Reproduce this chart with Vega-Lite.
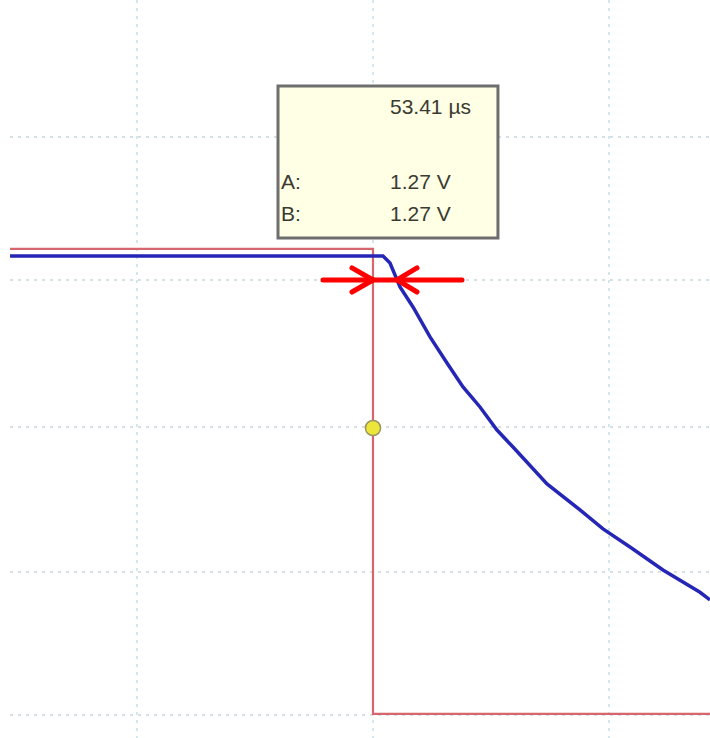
{
  "$schema": "https://vega.github.io/schema/vega-lite/v6.json",
  "width": 710,
  "height": 738,
  "padding": 0,
  "autosize": {"type": "none"},
  "background": "#ffffff",
  "config": {"view": {"stroke": null}},
  "encoding": {
    "x": {"field": "t", "type": "quantitative", "scale": {"domain": [-31.61, 28.56], "nice": false, "zero": false}, "axis": null},
    "y": {"field": "v", "type": "quantitative", "scale": {"domain": [-2.145, 2.945], "nice": false, "zero": false}, "axis": null}
  },
  "layer": [
    {
      "data": {"values": [
        {"t": -30.76, "t2": 28.56, "v": 2.0, "v2": 2.0},
        {"t": -30.76, "t2": 28.56, "v": 1.014, "v2": 1.014},
        {"t": -30.76, "t2": 28.56, "v": 0.0, "v2": 0.0},
        {"t": -30.76, "t2": 28.56, "v": -1.0, "v2": -1.0},
        {"t": -30.76, "t2": 28.56, "v": -1.986, "v2": -1.986}
      ]},
      "mark": {"type": "rule", "color": "#d6dfe4", "strokeWidth": 2, "strokeDash": [3, 5]},
      "encoding": {"x2": {"field": "t2"}, "y2": {"field": "v2"}}
    },
    {
      "data": {"values": [
        {"t": -20, "t2": -20, "v": 2.945, "v2": -2.145},
        {"t": 0, "t2": 0, "v": 2.945, "v2": -2.145},
        {"t": 20, "t2": 20, "v": 2.945, "v2": -2.145}
      ]},
      "mark": {"type": "rule", "color": "#d3e8ec", "strokeWidth": 2, "strokeDash": [3, 5]},
      "encoding": {"x2": {"field": "t2"}, "y2": {"field": "v2"}}
    },
    {
      "data": {"values": [
        {"i": 0, "t": -30.76, "v": 1.228},
        {"i": 1, "t": 0, "v": 1.228},
        {"i": 2, "t": 0, "v": -1.979},
        {"i": 3, "t": 28.56, "v": -1.979}
      ]},
      "mark": {"type": "line", "color": "#d8646e", "strokeWidth": 2.2},
      "encoding": {"order": {"field": "i", "type": "quantitative"}}
    },
    {
      "data": {"values": [
        {"i": 0, "t": -30.76, "v": 1.179},
        {"i": 1, "t": 0.847, "v": 1.179},
        {"i": 2, "t": 1.441, "v": 1.131},
        {"i": 3, "t": 2.288, "v": 0.966},
        {"i": 4, "t": 3.390, "v": 0.828},
        {"i": 5, "t": 4.831, "v": 0.621},
        {"i": 6, "t": 6.271, "v": 0.441},
        {"i": 7, "t": 7.627, "v": 0.276},
        {"i": 8, "t": 9.068, "v": 0.138},
        {"i": 9, "t": 10.508, "v": -0.021},
        {"i": 10, "t": 11.864, "v": -0.138},
        {"i": 11, "t": 14.746, "v": -0.393},
        {"i": 12, "t": 17.542, "v": -0.572},
        {"i": 13, "t": 19.492, "v": -0.703},
        {"i": 14, "t": 21.780, "v": -0.828},
        {"i": 15, "t": 24.576, "v": -0.986},
        {"i": 16, "t": 27.712, "v": -1.140},
        {"i": 17, "t": 28.559, "v": -1.193}
      ]},
      "mark": {"type": "line", "color": "#2626b6", "strokeWidth": 3.5},
      "encoding": {"order": {"field": "i", "type": "quantitative"}}
    },
    {
      "data": {"values": [
        {"t": -4.237, "v": 1.014, "t2": 7.542, "v2": 1.014},
        {"t": -1.780, "v": 1.097, "t2": 0, "v2": 1.014},
        {"t": -1.780, "v": 0.931, "t2": 0, "v2": 1.014},
        {"t": 3.729, "v": 1.097, "t2": 2.034, "v2": 1.014},
        {"t": 3.729, "v": 0.931, "t2": 2.034, "v2": 1.014}
      ]},
      "mark": {"type": "rule", "color": "#ff0000", "strokeWidth": 5, "strokeCap": "round"},
      "encoding": {"x2": {"field": "t2"}, "y2": {"field": "v2"}}
    },
    {
      "data": {"values": [{"t": 0, "v": -0.007}]},
      "mark": {"type": "point", "filled": true, "shape": "circle", "size": 230, "fill": "#ede63a", "stroke": "#9a9660", "strokeWidth": 1.5, "opacity": 1}
    },
    {
      "data": {"values": [{"t": -8.05, "t2": 10.59, "v": 2.352, "v2": 1.303}]},
      "mark": {"type": "rect", "fill": "#ffffe6", "stroke": "#6e6e6e", "strokeWidth": 3},
      "encoding": {"x2": {"field": "t2"}, "y2": {"field": "v2"}}
    },
    {
      "data": {"values": [
        {"t": 1.441, "v": 2.2, "label": "53.41 µs"},
        {"t": -7.8, "v": 1.683, "label": "A:"},
        {"t": 1.441, "v": 1.683, "label": "1.27 V"},
        {"t": -7.8, "v": 1.462, "label": "B:"},
        {"t": 1.441, "v": 1.462, "label": "1.27 V"}
      ]},
      "mark": {"type": "text", "align": "left", "baseline": "middle", "font": "Liberation Sans", "fontSize": 21, "color": "#3a3a30"},
      "encoding": {"text": {"field": "label", "type": "nominal"}}
    }
  ]
}
